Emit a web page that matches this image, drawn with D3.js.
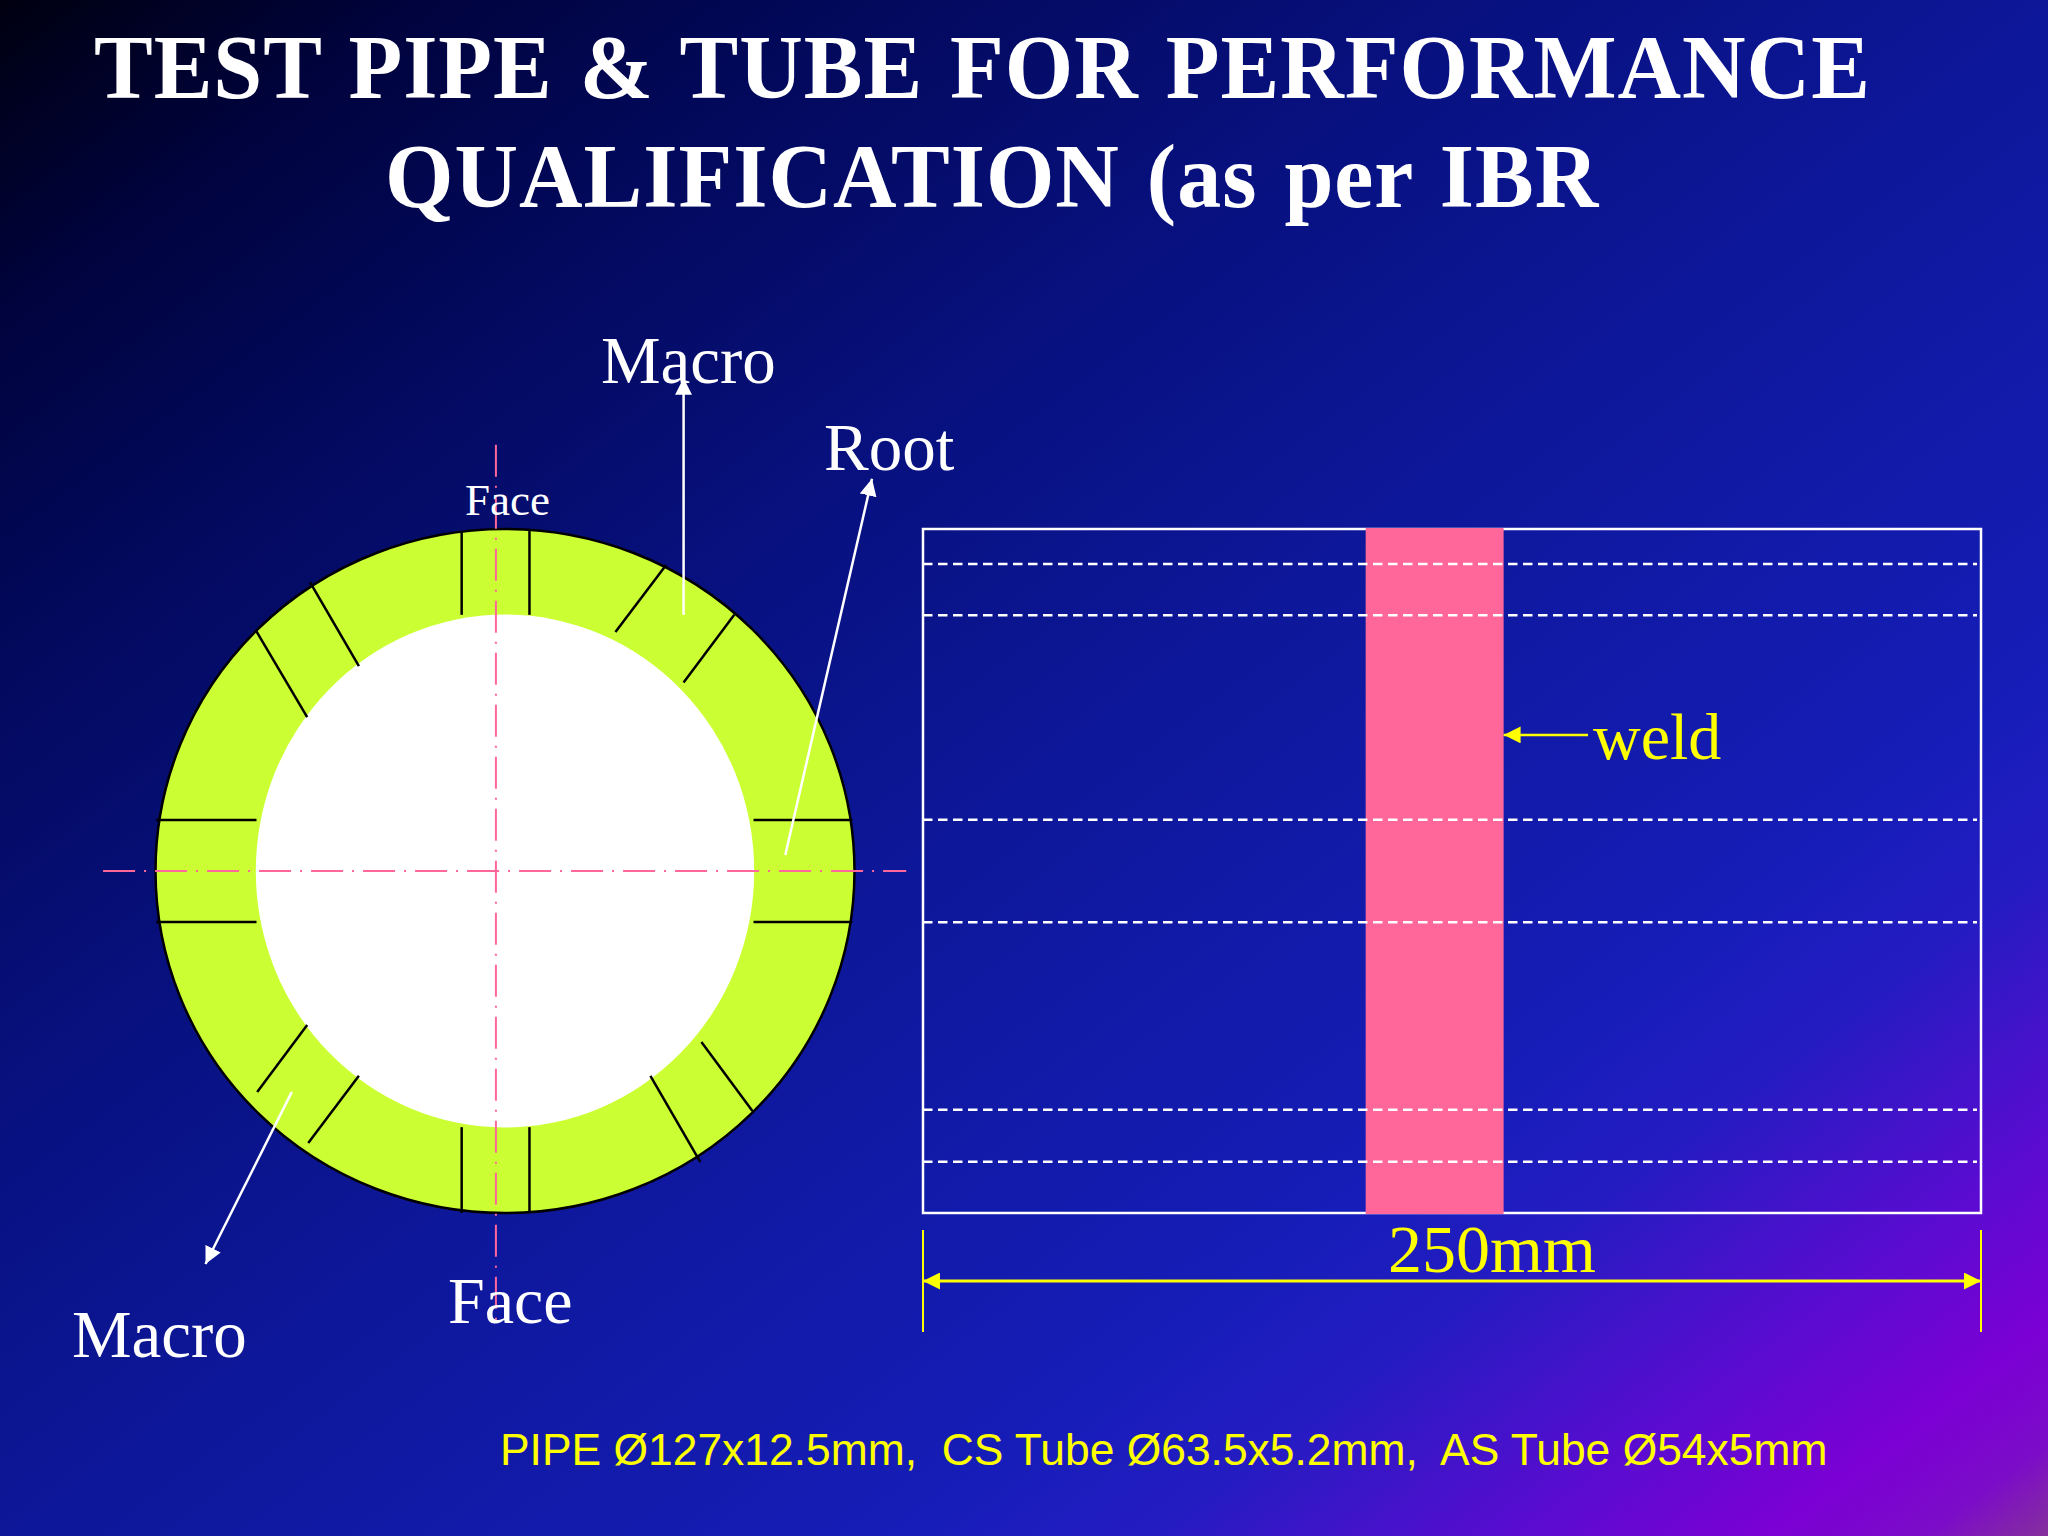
<!DOCTYPE html>
<html>
<head>
<meta charset="utf-8">
<script src="https://cdnjs.cloudflare.com/ajax/libs/d3/7.8.5/d3.min.js"></script>
<style>
  html, body { margin: 0; padding: 0; background: #000; }
  svg { display: block; }
  text { white-space: pre; }
</style>
</head>
<body>
<svg id="chart"></svg>
<script>
// Values
const titleLines = ['TEST PIPE & TUBE FOR PERFORMANCE', 'QUALIFICATION (as per IBR'];
const footer = 'PIPE Ø127x12.5mm,  CS Tube Ø63.5x5.2mm,  AS Tube Ø54x5mm';

// Side view: mm along the pipe, % across it
const pipeLength = 250;
const weldSpan = [104.6, 137.2];
const cutLines = [5.1, 12.6, 42.5, 57.5, 84.9, 92.5];
const weldArrowAt = 30.1;

// Section view: fractions of the outer radius, centre = 0
const innerRadius = [0.713, 0.75];
const sectionCuts = [
  [-0.124, -0.994, -0.124, -0.749], [0.07, -0.994, 0.07, -0.749],
  [-0.558, -0.845, -0.418, -0.599], [-0.712, -0.702, -0.566, -0.45],
  [0.461, -0.895, 0.316, -0.699], [0.656, -0.749, 0.511, -0.551],
  [-0.998, -0.149, -0.711, -0.149], [-0.998, 0.149, -0.711, 0.149],
  [0.711, -0.149, 0.994, -0.149], [0.711, 0.149, 0.994, 0.149],
  [-0.566, 0.45, -0.709, 0.646], [-0.418, 0.599, -0.563, 0.795],
  [-0.124, 0.749, -0.124, 1], [0.07, 0.749, 0.07, 1],
  [0.416, 0.599, 0.559, 0.851], [0.562, 0.5, 0.708, 0.702]
];
const centreLines = [[-0.026, -1.246, -0.026, 1.333], [-1.15, 0, 1.148, 0]];
const leaders = [
  [0.511, -0.749, 0.511, -1.442],
  [0.802, -0.047, 1.05, -1.147],
  [-0.61, 0.646, -0.857, 1.149]
];

const width = 2048;
const height = 1536;

const svg = d3.select('#chart').attr('width', width).attr('height', height);
const defs = svg.append('defs');

// Slide background
const bg = defs.append('linearGradient')
  .attr('id', 'bg')
  .attr('x1', '0%').attr('y1', '0%')
  .attr('x2', '100%').attr('y2', '100%');
[[0, '#000010'], [0.1, '#00033c'], [0.2, '#020858'], [0.35, '#07107c'], [0.5, '#0d1798'],
 [0.72, '#161db8'], [0.78, '#241cc2'], [0.87, '#5a0cd0'], [0.93, '#7a00d4'], [0.97, '#7c0cc8'], [1, '#85309c']]
  .forEach(s => bg.append('stop').attr('offset', s[0]).attr('stop-color', s[1]));

svg.append('rect').attr('width', width).attr('height', height).attr('fill', 'url(#bg)');

// Arrow heads
const addMarker = (id, color) => defs.append('marker')
  .attr('id', id)
  .attr('viewBox', '0 0 10 10')
  .attr('refX', 10).attr('refY', 5)
  .attr('markerUnits', 'userSpaceOnUse')
  .attr('markerWidth', 17).attr('markerHeight', 17)
  .attr('orient', 'auto-start-reverse')
  .append('path').attr('d', 'M0,0L10,5L0,10Z').attr('fill', color);
addMarker('arrow-white', '#fff');
addMarker('arrow-yellow', '#ffff00');

// Scales
const sx = d3.scaleLinear().domain([-1, 1]).range([155.5, 854.5]);
const sy = d3.scaleLinear().domain([-1, 1]).range([529, 1213]);
const px = d3.scaleLinear().domain([0, pipeLength]).range([923, 1981]);
const py = d3.scaleLinear().domain([0, 100]).range([529, 1213]);

// Section view
const section = svg.append('g');
section.append('ellipse')
  .attr('cx', sx(0)).attr('cy', sy(0))
  .attr('rx', sx(1) - sx(0)).attr('ry', sy(1) - sy(0))
  .attr('fill', '#ccff33').attr('stroke', '#000').attr('stroke-width', 2.5);
section.append('ellipse')
  .attr('cx', sx(0)).attr('cy', sy(0))
  .attr('rx', sx(innerRadius[0]) - sx(0)).attr('ry', sy(innerRadius[1]) - sy(0))
  .attr('fill', '#fff');

const segment = (sel, rows) => sel.selectAll('line').data(rows).enter().append('line')
  .attr('x1', d => sx(d[0])).attr('y1', d => sy(d[1]))
  .attr('x2', d => sx(d[2])).attr('y2', d => sy(d[3]));

segment(section.append('g'), sectionCuts)
  .attr('stroke', '#000').attr('stroke-width', 2.5);

segment(section.append('g'), centreLines)
  .attr('stroke', '#ff6699').attr('stroke-width', 2)
  .attr('stroke-dasharray', '32 9 2 9');

segment(section.append('g'), leaders)
  .attr('stroke', '#fff').attr('stroke-width', 2.5)
  .attr('marker-end', 'url(#arrow-white)');

// Side view
const side = svg.append('g');
side.append('rect')
  .attr('x', px(0)).attr('y', py(0))
  .attr('width', px(pipeLength) - px(0)).attr('height', py(100) - py(0))
  .attr('fill', 'none').attr('stroke', '#fff').attr('stroke-width', 2.5);

side.append('rect')
  .attr('x', px(weldSpan[0])).attr('y', py(0) - 1)
  .attr('width', px(weldSpan[1]) - px(weldSpan[0])).attr('height', py(100) - py(0) + 2)
  .attr('fill', '#ff6699');

side.selectAll('.cut').data(cutLines).enter().append('line')
  .attr('class', 'cut')
  .attr('x1', px(0)).attr('x2', px(pipeLength) - 4)
  .attr('y1', d => py(d)).attr('y2', d => py(d))
  .attr('stroke', '#fff').attr('stroke-width', 2.5)
  .attr('stroke-dasharray', '9.5 5.5');

// Weld pointer
side.append('line')
  .attr('x1', 1588).attr('y1', py(weldArrowAt))
  .attr('x2', px(weldSpan[1])).attr('y2', py(weldArrowAt))
  .attr('stroke', '#ffff00').attr('stroke-width', 2.5)
  .attr('marker-end', 'url(#arrow-yellow)');

// 250mm dimension
[0, pipeLength].forEach(d => side.append('line')
  .attr('x1', px(d)).attr('x2', px(d))
  .attr('y1', 1230).attr('y2', 1332)
  .attr('stroke', '#ffff00').attr('stroke-width', 2));
side.append('line')
  .attr('x1', px(0)).attr('x2', px(pipeLength))
  .attr('y1', 1281).attr('y2', 1281)
  .attr('stroke', '#ffff00').attr('stroke-width', 3)
  .attr('marker-start', 'url(#arrow-yellow)')
  .attr('marker-end', 'url(#arrow-yellow)');

// Text
const serif = '"Liberation Serif", "Times New Roman", serif';
const label = (str, x, y, size, color) => svg.append('text')
  .attr('x', x).attr('y', y)
  .attr('font-family', serif).attr('font-size', size)
  .attr('fill', color).text(str);

// The slide's title is set slightly tall and loose
const title = (str, x, y) => svg.append('text')
  .attr('transform', `translate(${x},${y}) scale(1,1.03)`)
  .attr('font-family', serif).attr('font-size', 88).attr('font-weight', 'bold')
  .attr('letter-spacing', 1).attr('word-spacing', 4)
  .attr('fill', '#fff').text(str);

title(titleLines[0], 94, 98);
title(titleLines[1], 385, 207);
label('Macro', 601, 383, 67, '#fff');
label('Root', 824, 470, 67, '#fff');
label('Face', 465, 515, 45, '#fff');
label('Face', 448, 1323, 66, '#fff');
label('Macro', 72, 1357, 67, '#fff');
label('weld', 1593, 759, 66, '#ffff00');
label('250mm', 1388, 1272, 68, '#ffff00');
label(footer, 500, 1465, 44.4, '#ffff00').attr('font-family', '"Liberation Sans", Arial, sans-serif');
</script>
</body>
</html>
